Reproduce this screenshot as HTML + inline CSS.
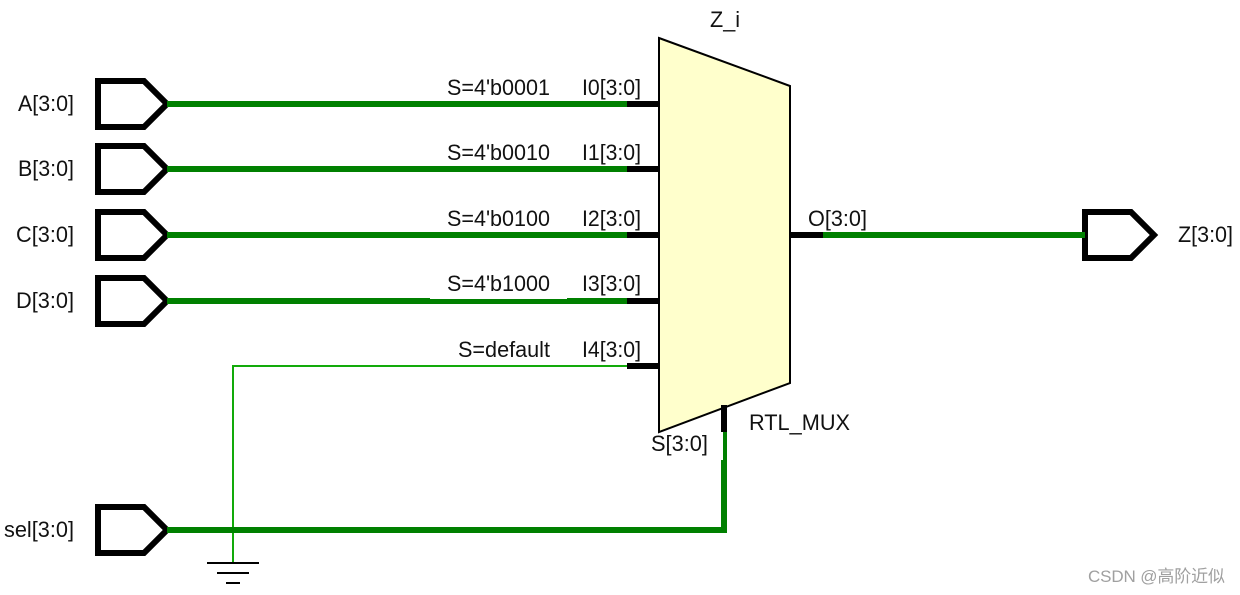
<!DOCTYPE html>
<html>
<head>
<meta charset="utf-8">
<style>
html,body{margin:0;padding:0;background:#fff;width:1240px;height:595px;overflow:hidden}
svg{display:block}
text{font-family:"Liberation Sans","Noto Sans CJK SC",sans-serif;font-size:22px;fill:#111}
.e{text-anchor:end}
</style>
</head>
<body>
<svg width="1240" height="595" viewBox="0 0 1240 595" xmlns="http://www.w3.org/2000/svg">
<rect width="1240" height="595" fill="#fff"/>

<!-- thin wire to ground -->
<polyline points="627,366 233,366 233,563" fill="none" stroke="#12aa0a" stroke-width="2"/>

<!-- ports -->
<g fill="none" stroke="#000" stroke-width="6" stroke-linejoin="miter">
<polygon points="98,81 144,81 167,104 144,127 98,127"/>
<polygon points="98,146 144,146 167,169 144,192 98,192"/>
<polygon points="98,212 144,212 167,235 144,258 98,258"/>
<polygon points="98,278 144,278 167,301 144,324 98,324"/>
<polygon points="98,507 144,507 167,530 144,553 98,553"/>
<polygon points="1085,212 1131,212 1154,235 1131,258 1085,258"/>
</g>

<!-- thick wires -->
<g fill="none" stroke="#008000" stroke-width="6">
<line x1="167" y1="104" x2="627" y2="104"/>
<line x1="167" y1="169" x2="627" y2="169"/>
<line x1="167" y1="235" x2="627" y2="235"/>
<line x1="167" y1="301" x2="627" y2="301"/>
<line x1="823" y1="235" x2="1085" y2="235"/>
<polyline points="167,530 724,530 724,432"/>
</g>
<!-- label background clipping -->
<rect x="430" y="296" width="137" height="3" fill="#fff"/>
<rect x="720" y="432" width="3" height="28" fill="#fff"/>

<!-- ground -->
<g fill="#000">
<rect x="207" y="562" width="52" height="2"/>
<rect x="217" y="572" width="32" height="2"/>
<rect x="226" y="582" width="14" height="2"/>
</g>

<!-- mux -->
<polygon points="659,38 790,86 790,383 659,432" fill="#ffffcc" stroke="#000" stroke-width="2"/>

<!-- stubs -->
<g fill="#000">
<rect x="627" y="101" width="32" height="6"/>
<rect x="627" y="166" width="32" height="6"/>
<rect x="627" y="232" width="32" height="6"/>
<rect x="627" y="298" width="32" height="6"/>
<rect x="627" y="363" width="32" height="6"/>
<rect x="791" y="232" width="32" height="6"/>
<rect x="721" y="405" width="6" height="27"/>
</g>

<!-- labels -->
<g lengthAdjust="spacingAndGlyphs">
<text x="18" y="111" textLength="56" lengthAdjust="spacingAndGlyphs">A[3:0]</text>
<text x="18" y="176" textLength="56" lengthAdjust="spacingAndGlyphs">B[3:0]</text>
<text x="16" y="242" textLength="58" lengthAdjust="spacingAndGlyphs">C[3:0]</text>
<text x="16" y="308" textLength="58" lengthAdjust="spacingAndGlyphs">D[3:0]</text>
<text x="4" y="537" textLength="70" lengthAdjust="spacingAndGlyphs">sel[3:0]</text>

<text x="447" y="95" textLength="103" lengthAdjust="spacingAndGlyphs">S=4'b0001</text>
<text x="447" y="160" textLength="103" lengthAdjust="spacingAndGlyphs">S=4'b0010</text>
<text x="447" y="226" textLength="103" lengthAdjust="spacingAndGlyphs">S=4'b0100</text>
<text x="447" y="291" textLength="103" lengthAdjust="spacingAndGlyphs">S=4'b1000</text>
<text x="458" y="357" textLength="92" lengthAdjust="spacingAndGlyphs">S=default</text>

<text x="582" y="95" textLength="59" lengthAdjust="spacingAndGlyphs">I0[3:0]</text>
<text x="582" y="160" textLength="59" lengthAdjust="spacingAndGlyphs">I1[3:0]</text>
<text x="582" y="226" textLength="59" lengthAdjust="spacingAndGlyphs">I2[3:0]</text>
<text x="582" y="291" textLength="59" lengthAdjust="spacingAndGlyphs">I3[3:0]</text>
<text x="582" y="357" textLength="59" lengthAdjust="spacingAndGlyphs">I4[3:0]</text>

<text x="710" y="27" textLength="30" lengthAdjust="spacingAndGlyphs">Z_i</text>
<text x="808" y="226" textLength="59" lengthAdjust="spacingAndGlyphs">O[3:0]</text>
<text x="1178" y="242" textLength="55" lengthAdjust="spacingAndGlyphs">Z[3:0]</text>
<text x="651" y="451" textLength="57" lengthAdjust="spacingAndGlyphs">S[3:0]</text>
<text x="749" y="430" textLength="101" lengthAdjust="spacingAndGlyphs">RTL_MUX</text>
</g>

<text x="1088" y="582" style="font-size:17px;fill:#a0a0a0" textLength="137">CSDN @高阶近似</text>
</svg>
</body>
</html>
